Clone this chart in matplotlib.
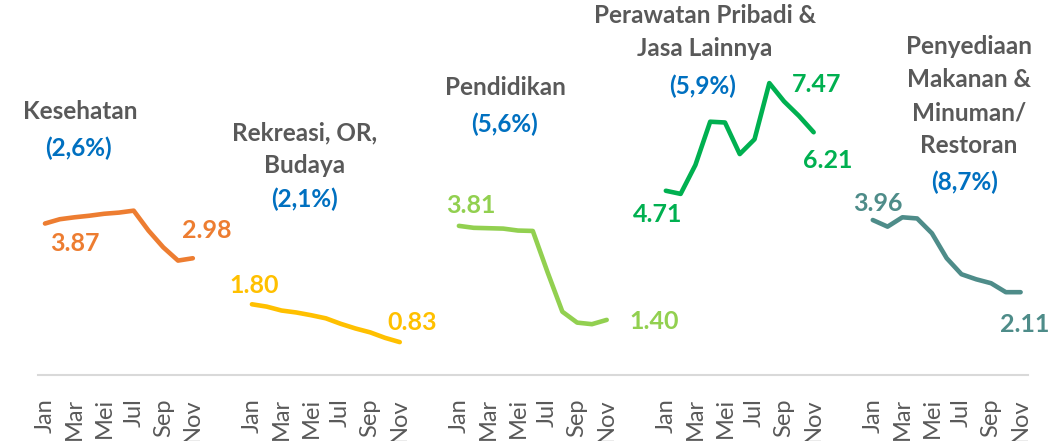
import matplotlib
matplotlib.use("Agg")
import matplotlib.pyplot as plt

months = ["Jan", "Feb", "Mar", "Apr", "Mei", "Jun", "Jul", "Agu", "Sep", "Okt", "Nov"]
tick_months = ["Jan", "Mar", "Mei", "Jul", "Sep", "Nov"]

kesehatan = [3.87, 3.98, 4.03, 4.07, 4.12, 4.15, 4.20, 3.69, 3.26, 2.92, 2.98]
rekreasi = [1.80, 1.74, 1.64, 1.59, 1.52, 1.44, 1.30, 1.18, 1.08, 0.94, 0.83]
pendidikan = [3.81, 3.76, 3.75, 3.74, 3.69, 3.68, 2.62, 1.61, 1.33, 1.29, 1.40]
perawatan = [4.71, 4.63, 5.37, 6.48, 6.46, 5.65, 6.03, 7.47, 7.00, 6.63, 6.21]
penyediaan = [3.96, 3.79, 4.03, 4.00, 3.62, 2.98, 2.57, 2.44, 2.34, 2.11, 2.11]

series = [kesehatan, rekreasi, pendidikan, perawatan, penyediaan]
titles = ["Kesehatan", "Rekreasi, OR,\nBudaya", "Pendidikan",
          "Perawatan Pribadi &\nJasa Lainnya", "Penyediaan\nMakanan &\nMinuman/\nRestoran"]
shares = ["(2,6%)", "(2,1%)", "(5,6%)", "(5,9%)", "(8,7%)"]
colors = ["#ED7D31", "#FFC000", "#92D050", "#00B050", "#4E8C89"]

# which points get a value label, and where (offset in pixels)
labels = [
    [(0, 30, -20), (10, 14, 28)],
    [(0, 2, 19), (10, 12, 20)],
    [(0, 12, 20), (10, 47, -2)],
    [(0, -8, -24), (7, 47, -1), (10, 14, -28)],
    [(0, 5, 17), (10, 4, -32)],
]
# centre of the first title line, and of the share text (pixels)
title_pos = [(80, 115), (305, 136), (505, 91), (705, 19), (969, 50)]
share_pos = [(78, 148), (305, 199), (505, 124), (703, 86), (965, 182)]

plt.rcParams["font.family"] = ["Lato", "DejaVu Sans"]

W, H = 1049, 441
fig = plt.figure(figsize=(W / 100, H / 100), dpi=100)
ax = fig.add_axes([37.6 / W, (H - 374.5) / H, 990.4 / W, 374.5 / H])

gap = 14
xticks, xticklabels = [], []
for g, vals in enumerate(series):
    xs = [g * gap + m for m in range(len(months))]
    ax.plot(xs, vals, color=colors[g], lw=3.3, solid_capstyle="round",
            solid_joinstyle="round")
    for m, name in enumerate(months):
        if name in tick_months:
            xticks.append(xs[m])
            xticklabels.append(name)
    for idx, dx, dy in labels[g]:
        ax.annotate(f"{vals[idx]:.2f}", (xs[idx], vals[idx]), xytext=(dx, dy),
                    textcoords="offset pixels", ha="center", va="center",
                    color=colors[g], fontsize=18, fontweight="bold")

for g in range(len(series)):
    tx, ty = title_pos[g]
    fig.text(tx / W, 1 - (ty - 15) / H, titles[g], ha="center", va="top",
             color="#595959", fontsize=17.5, fontweight="bold", linespacing=1.53)
    sx, sy = share_pos[g]
    fig.text(sx / W, 1 - sy / H, shares[g], ha="center", va="center",
             color="#0070C0", fontsize=17.5, fontweight="bold")

ax.set_xlim(-0.5, 4 * gap + 10.5)
ax.set_ylim(0, 9.6)
ax.set_xticks(xticks)
ax.set_xticklabels(xticklabels, rotation=90, color="#595959", fontsize=17)
ax.tick_params(axis="x", length=0, pad=17)
ax.set_yticks([])
for side in ["left", "right", "top"]:
    ax.spines[side].set_visible(False)
ax.spines["bottom"].set_color("#D9D9D9")
ax.spines["bottom"].set_linewidth(1.5)

fig.savefig("out.png", dpi=100)
